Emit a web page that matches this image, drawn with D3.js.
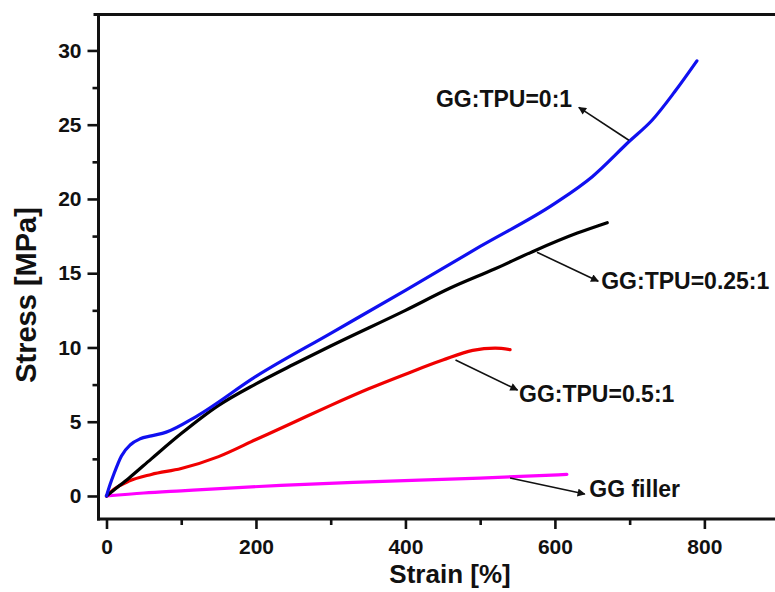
<!DOCTYPE html>
<html>
<head>
<meta charset="utf-8">
<script src="https://cdn.jsdelivr.net/npm/d3@7"></script>
<style>
  html, body { margin: 0; padding: 0; background: #fff; }
  svg { display: block; }
  text { font-family: "Liberation Sans", Arial, sans-serif; font-weight: bold; fill: #111; }
</style>
</head>
<body>
<svg id="chart" width="775" height="592"></svg>
<script>
// ---- data ----
const blueStrain  = [0, 5, 10, 20, 32, 45, 60, 80, 120, 200, 300, 400, 500, 600, 650, 700, 730, 760, 790];
const blueStress  = [0, 0.8, 1.5, 2.7, 3.45, 3.85, 4.05, 4.3, 5.35, 8.05, 10.95, 13.85, 16.8, 19.7, 21.5, 23.9, 25.3, 27.2, 29.3];

const blackStrain = [0, 10, 30, 60, 100, 150, 200, 250, 300, 400, 460, 520, 570, 630, 670];
const blackStress = [0, 0.4, 1.2, 2.5, 4.2, 6.1, 7.55, 8.85, 10.1, 12.5, 14.0, 15.3, 16.45, 17.7, 18.4];

const redStrain   = [0, 10, 30, 60, 100, 150, 200, 250, 300, 350, 400, 450, 490, 520, 540];
const redStress   = [0, 0.45, 1.0, 1.45, 1.85, 2.65, 3.8, 4.95, 6.1, 7.2, 8.2, 9.15, 9.8, 9.95, 9.85];

const pinkStrain  = [0, 50, 100, 233, 350, 500, 616];
const pinkStress  = [0, 0.2, 0.35, 0.72, 0.95, 1.2, 1.45];

const seriesNames  = ["GG:TPU=0:1", "GG:TPU=0.25:1", "GG:TPU=0.5:1", "GG filler"];
const seriesColors = ["#1010f0", "#000000", "#f00000", "#ff00ff"];

// annotation arrows: [fromStrain, fromStress] -> [toStrain, toStress], label anchor [strain, stress]
const arrowFrom  = [[699, 23.95], [576, 16.41], [467, 9.15], [540, 1.21]];
const arrowTo    = [[632, 26.17], [658, 14.46], [550, 7.13], [640, 0.13]];
const labelAt    = [[623, 26.17], [662, 13.92], [552, 6.36], [646, -0.07]];
const labelAnchor = ["end", "start", "start", "start"];

const xMajorTicks = [0, 200, 400, 600, 800];
const xMinorTicks = [100, 300, 500, 700];
const yMajorTicks = [0, 5, 10, 15, 20, 25, 30];
const yMinorTicks = [2.5, 7.5, 12.5, 17.5, 22.5, 27.5];

const xTitle = "Strain [%]";
const yTitle = "Stress [MPa]";

// ---- layout ----
const svg = d3.select("#chart");
const mLeft = 98.5, mRight = 775, mTop = 14.5, mBottom = 519;

const x = d3.scaleLinear().domain([-10.7, 894.5]).range([mLeft, mRight]);
const y = d3.scaleLinear().domain([-1.55, 32.42]).range([mBottom, mTop]);

const axisColor = "#111";

// top frame line
svg.append("line")
  .attr("x1", mLeft - 5).attr("x2", mRight)
  .attr("y1", mTop).attr("y2", mTop)
  .attr("stroke", axisColor).attr("stroke-width", 3);

// y axis
const yAxisMaj = d3.axisLeft(y).tickValues(yMajorTicks).tickSize(11).tickPadding(6).tickFormat(d3.format("d"));
const yAxisMin = d3.axisLeft(y).tickValues(yMinorTicks).tickSize(6).tickFormat("");
const gy = svg.append("g").attr("transform", `translate(${mLeft},0)`).call(yAxisMaj);
const gy2 = svg.append("g").attr("transform", `translate(${mLeft},0)`).call(yAxisMin);

// x axis
const xAxisMaj = d3.axisBottom(x).tickValues(xMajorTicks).tickSize(10).tickPadding(10).tickFormat(d3.format("d"));
const xAxisMin = d3.axisBottom(x).tickValues(xMinorTicks).tickSize(6).tickFormat("");
const gx = svg.append("g").attr("transform", `translate(0,${mBottom})`).call(xAxisMaj);
const gx2 = svg.append("g").attr("transform", `translate(0,${mBottom})`).call(xAxisMin);

[gy, gy2, gx, gx2].forEach(g => {
  g.select(".domain").attr("stroke", axisColor).attr("stroke-width", 3);
  g.selectAll(".tick line").attr("stroke", axisColor).attr("stroke-width", 2.6);
  g.selectAll(".tick text").attr("font-size", 21).attr("font-weight", "bold")
    .attr("font-family", '"Liberation Sans", Arial, sans-serif').attr("fill", "#111");
});
gy.select(".domain").attr("d", `M0,${mTop - 1.5}V${mBottom + 1.5}`);
gx.select(".domain").attr("d", `M${mLeft - 1.5},0H${mRight}`);
gy2.select(".domain").remove();
gx2.select(".domain").remove();

// titles
svg.append("text")
  .attr("x", 450).attr("y", 583)
  .attr("text-anchor", "middle").attr("font-size", 26)
  .text(xTitle);
svg.append("text")
  .attr("transform", "translate(36,295) rotate(-90)")
  .attr("text-anchor", "middle").attr("font-size", 29)
  .text(yTitle);

// curves
const series = [
  d3.zip(blueStrain, blueStress),
  d3.zip(blackStrain, blackStress),
  d3.zip(redStrain, redStress),
  d3.zip(pinkStrain, pinkStress)
];
const line = d3.line().x(d => x(d[0])).y(d => y(d[1])).curve(d3.curveMonotoneX);

[3, 2, 1, 0].forEach(i => {
  svg.append("path")
    .datum(series[i])
    .attr("d", line)
    .attr("fill", "none")
    .attr("stroke", seriesColors[i])
    .attr("stroke-width", 3.2)
    .attr("stroke-linejoin", "round")
    .attr("stroke-linecap", "round");
});

// arrow marker
svg.append("defs").append("marker")
  .attr("id", "arrow")
  .attr("viewBox", "0 0 10 10")
  .attr("refX", 9).attr("refY", 5)
  .attr("markerWidth", 10).attr("markerHeight", 8)
  .attr("markerUnits", "userSpaceOnUse")
  .attr("orient", "auto")
  .append("path").attr("d", "M0,0 L10,5 L0,10 z").attr("fill", "#111");

seriesNames.forEach((name, i) => {
  svg.append("line")
    .attr("x1", x(arrowFrom[i][0])).attr("y1", y(arrowFrom[i][1]))
    .attr("x2", x(arrowTo[i][0])).attr("y2", y(arrowTo[i][1]))
    .attr("stroke", "#111").attr("stroke-width", 1.6)
    .attr("marker-end", "url(#arrow)");
  svg.append("text")
    .attr("x", x(labelAt[i][0])).attr("y", y(labelAt[i][1]))
    .attr("text-anchor", labelAnchor[i])
    .attr("font-size", 23)
    .text(name);
});
</script>
</body>
</html>
